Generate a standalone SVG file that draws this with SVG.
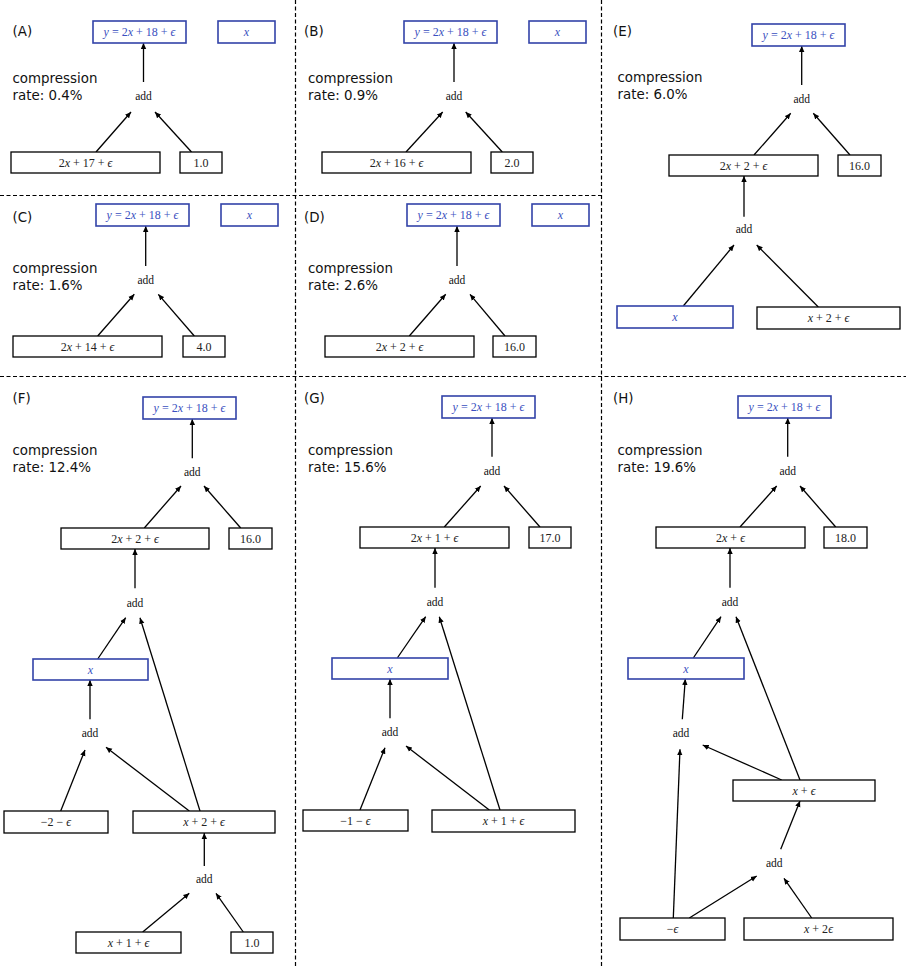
<svg xmlns="http://www.w3.org/2000/svg" width="906" height="966" viewBox="0 0 906 966">
<style>
.bg{fill:#ffffff}
.div{stroke:#000;stroke-width:1.2;stroke-dasharray:4,2.5;fill:none}
.box{fill:#fff;stroke:#000;stroke-width:1.3}
.bbox{fill:#fff;stroke:#3243a8;stroke-width:1.6}
.m{font-family:"Liberation Serif","DejaVu Serif",serif;font-size:12px;text-anchor:middle;fill:#222}
.a{font-family:"Liberation Serif","DejaVu Serif",serif;font-size:11.5px;text-anchor:middle;fill:#111}
.bm{font-family:"Liberation Serif","DejaVu Serif",serif;font-size:12px;text-anchor:middle;fill:#3a4fc0}
.it{font-style:italic}
.lab{font-family:"DejaVu Sans",sans-serif;font-size:13.4px;fill:#111}
.e{stroke:#000;stroke-width:1.3;fill:none;marker-end:url(#ah)}
</style>
<defs>
<marker id="ah" viewBox="0 0 10 10" markerWidth="6" markerHeight="6" refX="10" refY="5" orient="auto" markerUnits="userSpaceOnUse">
<path d="M0,0.5 L10,5 L0,9.5 z" fill="#000"/>
</marker>
</defs>
<rect class="bg" x="0" y="0" width="906" height="966"/>
<g id="dividers">
<line class="div" x1="295.5" y1="0" x2="295.5" y2="966"/>
<line class="div" x1="601.5" y1="0" x2="601.5" y2="966"/>
<line class="div" x1="0" y1="195.5" x2="601" y2="195.5"/>
<line class="div" x1="0" y1="376.5" x2="906" y2="376.5"/>
</g>
<g id="labels">
<text class="lab" x="12.5" y="36">(A)</text>
<text class="lab" x="12.5" y="83">compression</text>
<text class="lab" x="12.5" y="99.5">rate: 0.4%</text>
<text class="lab" x="304" y="36">(B)</text>
<text class="lab" x="308" y="83">compression</text>
<text class="lab" x="308" y="99.5">rate: 0.9%</text>
<text class="lab" x="12.5" y="222">(C)</text>
<text class="lab" x="12.5" y="273">compression</text>
<text class="lab" x="12.5" y="290">rate: 1.6%</text>
<text class="lab" x="304" y="222">(D)</text>
<text class="lab" x="308" y="273">compression</text>
<text class="lab" x="308" y="290">rate: 2.6%</text>
<text class="lab" x="613" y="36">(E)</text>
<text class="lab" x="617.5" y="82">compression</text>
<text class="lab" x="617.5" y="99">rate: 6.0%</text>
<text class="lab" x="12.5" y="403">(F)</text>
<text class="lab" x="12.5" y="455">compression</text>
<text class="lab" x="12.5" y="471.7">rate: 12.4%</text>
<text class="lab" x="304" y="403">(G)</text>
<text class="lab" x="308" y="455">compression</text>
<text class="lab" x="308" y="471.7">rate: 15.6%</text>
<text class="lab" x="613" y="403">(H)</text>
<text class="lab" x="617.5" y="455">compression</text>
<text class="lab" x="617.5" y="471.7">rate: 19.6%</text>
</g>
<g id="connectors">
<!-- A -->
<line class="e" x1="143.5" y1="82" x2="143.5" y2="43"/>
<line class="e" x1="96" y1="152" x2="131" y2="112"/>
<line class="e" x1="191.5" y1="152" x2="155" y2="112"/>
<!-- B -->
<line class="e" x1="454" y1="82" x2="454" y2="43"/>
<line class="e" x1="406" y1="152" x2="442.7" y2="112"/>
<line class="e" x1="502.3" y1="152" x2="465.7" y2="112"/>
<!-- C -->
<line class="e" x1="145.7" y1="266" x2="145.7" y2="226"/>
<line class="e" x1="97.7" y1="336" x2="134.3" y2="294.3"/>
<line class="e" x1="194.3" y1="336" x2="158.3" y2="294.3"/>
<!-- D -->
<line class="e" x1="457" y1="266" x2="457" y2="226"/>
<line class="e" x1="409.3" y1="336" x2="445.7" y2="294.3"/>
<line class="e" x1="505" y1="336" x2="470" y2="294.3"/>
<!-- E -->
<line class="e" x1="801.7" y1="85" x2="801.7" y2="46"/>
<line class="e" x1="754" y1="155" x2="790.7" y2="113.3"/>
<line class="e" x1="850" y1="155" x2="813.3" y2="113.3"/>
<line class="e" x1="744" y1="216.7" x2="744" y2="176"/>
<line class="e" x1="683.3" y1="306" x2="734" y2="245"/>
<line class="e" x1="818.3" y1="307" x2="756.7" y2="245"/>
<!-- F -->
<line class="e" x1="192.3" y1="458.3" x2="192.3" y2="419"/>
<line class="e" x1="144.3" y1="528" x2="181" y2="486"/>
<line class="e" x1="240.7" y1="528" x2="204" y2="486"/>
<line class="e" x1="135" y1="588.3" x2="135" y2="549"/>
<line class="e" x1="97.7" y1="659" x2="125.7" y2="617.7"/>
<line class="e" x1="200" y1="811" x2="140" y2="617.7"/>
<line class="e" x1="90" y1="719.3" x2="90" y2="680"/>
<line class="e" x1="60.7" y1="811" x2="85" y2="750"/>
<line class="e" x1="189.3" y1="811" x2="106" y2="747.3"/>
<line class="e" x1="204.3" y1="866" x2="204.3" y2="833"/>
<line class="e" x1="142.7" y1="932" x2="189.3" y2="893.3"/>
<line class="e" x1="243.3" y1="932" x2="216" y2="893.3"/>
<!-- G -->
<line class="e" x1="492" y1="456.7" x2="492" y2="418"/>
<line class="e" x1="444.3" y1="527" x2="480.7" y2="486"/>
<line class="e" x1="540" y1="527" x2="504" y2="486"/>
<line class="e" x1="435" y1="587.7" x2="435" y2="548"/>
<line class="e" x1="397.3" y1="658" x2="425.7" y2="616.7"/>
<line class="e" x1="500" y1="810" x2="439.3" y2="616.7"/>
<line class="e" x1="390" y1="718.3" x2="390" y2="679"/>
<line class="e" x1="360" y1="810" x2="385" y2="747.7"/>
<line class="e" x1="489.3" y1="810" x2="406" y2="746"/>
<!-- H -->
<line class="e" x1="787.7" y1="456.7" x2="787.7" y2="418"/>
<line class="e" x1="740" y1="527" x2="776.7" y2="486"/>
<line class="e" x1="835.7" y1="527" x2="800" y2="486"/>
<line class="e" x1="730" y1="587.7" x2="730" y2="548"/>
<line class="e" x1="693.3" y1="658" x2="721" y2="616.7"/>
<line class="e" x1="800" y1="780" x2="736" y2="616.7"/>
<line class="e" x1="682.3" y1="719.3" x2="685.3" y2="679"/>
<line class="e" x1="781.7" y1="780" x2="702.7" y2="745"/>
<line class="e" x1="780.7" y1="849.3" x2="800" y2="801"/>
<line class="e" x1="673.3" y1="918" x2="680" y2="749.3"/>
<line class="e" x1="689.3" y1="918" x2="756.7" y2="876"/>
<line class="e" x1="811.7" y1="918" x2="784" y2="878.3"/>
</g>
<!-- Panel A -->
<g id="A-y"><rect class="bbox" x="93" y="21" width="93" height="22"/><text class="bm" x="139.5" y="36"><tspan class="it">y</tspan> = 2<tspan class="it">x</tspan> + 18 + <tspan class="it">ϵ</tspan></text></g>
<g id="A-x"><rect class="bbox" x="218" y="21" width="57" height="22"/><text class="bm it" x="246.5" y="36">x</text></g>
<g id="A-add"><text class="a" x="143.5" y="100">add</text></g>
<g id="A-l"><rect class="box" x="11" y="152" width="149" height="21"/><text class="m" x="85.5" y="166.5">2<tspan class="it">x</tspan> + 17 + <tspan class="it">ϵ</tspan></text></g>
<g id="A-r"><rect class="box" x="180" y="152" width="42" height="21"/><text class="m" x="201" y="166.5">1.0</text></g>
<!-- Panel B -->
<g id="B-y"><rect class="bbox" x="404" y="21" width="93" height="22"/><text class="bm" x="450.5" y="36"><tspan class="it">y</tspan> = 2<tspan class="it">x</tspan> + 18 + <tspan class="it">ϵ</tspan></text></g>
<g id="B-x"><rect class="bbox" x="529" y="21" width="57" height="22"/><text class="bm it" x="557.5" y="36">x</text></g>
<g id="B-add"><text class="a" x="454" y="100">add</text></g>
<g id="B-l"><rect class="box" x="322" y="152" width="149" height="21"/><text class="m" x="396.5" y="166.5">2<tspan class="it">x</tspan> + 16 + <tspan class="it">ϵ</tspan></text></g>
<g id="B-r"><rect class="box" x="491" y="152" width="42" height="21"/><text class="m" x="512" y="166.5">2.0</text></g>
<!-- Panel C -->
<g id="C-y"><rect class="bbox" x="96" y="204" width="93" height="22"/><text class="bm" x="142.5" y="219"><tspan class="it">y</tspan> = 2<tspan class="it">x</tspan> + 18 + <tspan class="it">ϵ</tspan></text></g>
<g id="C-x"><rect class="bbox" x="221" y="204" width="57" height="22"/><text class="bm it" x="249.5" y="219">x</text></g>
<g id="C-add"><text class="a" x="145.7" y="284">add</text></g>
<g id="C-l"><rect class="box" x="13" y="336" width="149" height="21"/><text class="m" x="87.5" y="350.5">2<tspan class="it">x</tspan> + 14 + <tspan class="it">ϵ</tspan></text></g>
<g id="C-r"><rect class="box" x="183" y="336" width="42" height="21"/><text class="m" x="204" y="350.5">4.0</text></g>
<!-- Panel D -->
<g id="D-y"><rect class="bbox" x="407" y="204" width="93" height="22"/><text class="bm" x="453.5" y="219"><tspan class="it">y</tspan> = 2<tspan class="it">x</tspan> + 18 + <tspan class="it">ϵ</tspan></text></g>
<g id="D-x"><rect class="bbox" x="532" y="204" width="57" height="22"/><text class="bm it" x="560.5" y="219">x</text></g>
<g id="D-add"><text class="a" x="457" y="284">add</text></g>
<g id="D-l"><rect class="box" x="325" y="336" width="149" height="21"/><text class="m" x="399.5" y="350.5">2<tspan class="it">x</tspan> + 2 + <tspan class="it">ϵ</tspan></text></g>
<g id="D-r"><rect class="box" x="493" y="336" width="43" height="21"/><text class="m" x="514.5" y="350.5">16.0</text></g>
<!-- Panel E -->
<g id="E-y"><rect class="bbox" x="752" y="24" width="93" height="22"/><text class="bm" x="798.5" y="39"><tspan class="it">y</tspan> = 2<tspan class="it">x</tspan> + 18 + <tspan class="it">ϵ</tspan></text></g>
<g id="E-add1"><text class="a" x="801.7" y="103">add</text></g>
<g id="E-n1"><rect class="box" x="669" y="155" width="149" height="21"/><text class="m" x="743.5" y="169.5">2<tspan class="it">x</tspan> + 2 + <tspan class="it">ϵ</tspan></text></g>
<g id="E-c1"><rect class="box" x="838" y="155" width="43" height="21"/><text class="m" x="859.5" y="169.5">16.0</text></g>
<g id="E-add2"><text class="a" x="744" y="233">add</text></g>
<g id="E-x"><rect class="bbox" x="617" y="306" width="116" height="22"/><text class="bm it" x="675" y="321">x</text></g>
<g id="E-n2"><rect class="box" x="757" y="307" width="143" height="22"/><text class="m" x="828.5" y="322"><tspan class="it">x</tspan> + 2 + <tspan class="it">ϵ</tspan></text></g>
<!-- Panel F -->
<g id="F-y"><rect class="bbox" x="143" y="397" width="93" height="22"/><text class="bm" x="189.5" y="412"><tspan class="it">y</tspan> = 2<tspan class="it">x</tspan> + 18 + <tspan class="it">ϵ</tspan></text></g>
<g id="F-add1"><text class="a" x="192.3" y="475.7">add</text></g>
<g id="F-n1"><rect class="box" x="61" y="528" width="148" height="21"/><text class="m" x="135" y="542.5">2<tspan class="it">x</tspan> + 2 + <tspan class="it">ϵ</tspan></text></g>
<g id="F-c1"><rect class="box" x="229" y="528" width="43" height="21"/><text class="m" x="250.5" y="542.5">16.0</text></g>
<g id="F-add2"><text class="a" x="135" y="606.7">add</text></g>
<g id="F-x"><rect class="bbox" x="33" y="659" width="115" height="21"/><text class="bm it" x="90.5" y="673.5">x</text></g>
<g id="F-add3"><text class="a" x="90" y="736.7">add</text></g>
<g id="F-n2"><rect class="box" x="4" y="811" width="104" height="22"/><text class="m" x="56" y="826">−2 − <tspan class="it">ϵ</tspan></text></g>
<g id="F-n3"><rect class="box" x="133" y="811" width="142" height="22"/><text class="m" x="204" y="826"><tspan class="it">x</tspan> + 2 + <tspan class="it">ϵ</tspan></text></g>
<g id="F-add4"><text class="a" x="204.3" y="883.3">add</text></g>
<g id="F-n4"><rect class="box" x="76" y="932" width="105" height="21"/><text class="m" x="128.5" y="946.5"><tspan class="it">x</tspan> + 1 + <tspan class="it">ϵ</tspan></text></g>
<g id="F-c2"><rect class="box" x="231" y="932" width="42" height="21"/><text class="m" x="252" y="946.5">1.0</text></g>
<!-- Panel G -->
<g id="G-y"><rect class="bbox" x="442" y="396" width="93" height="22"/><text class="bm" x="488.5" y="411"><tspan class="it">y</tspan> = 2<tspan class="it">x</tspan> + 18 + <tspan class="it">ϵ</tspan></text></g>
<g id="G-add1"><text class="a" x="492" y="475">add</text></g>
<g id="G-n1"><rect class="box" x="360" y="527" width="149" height="21"/><text class="m" x="434.5" y="541.5">2<tspan class="it">x</tspan> + 1 + <tspan class="it">ϵ</tspan></text></g>
<g id="G-c1"><rect class="box" x="529" y="527" width="42" height="21"/><text class="m" x="550" y="541.5">17.0</text></g>
<g id="G-add2"><text class="a" x="435" y="605.7">add</text></g>
<g id="G-x"><rect class="bbox" x="332" y="658" width="116" height="21"/><text class="bm it" x="390" y="672.5">x</text></g>
<g id="G-add3"><text class="a" x="390" y="735.7">add</text></g>
<g id="G-n2"><rect class="box" x="303" y="810" width="105" height="21"/><text class="m" x="355.5" y="824.5">−1 − <tspan class="it">ϵ</tspan></text></g>
<g id="G-n3"><rect class="box" x="432" y="810" width="143" height="22"/><text class="m" x="503.5" y="825"><tspan class="it">x</tspan> + 1 + <tspan class="it">ϵ</tspan></text></g>
<!-- Panel H -->
<g id="H-y"><rect class="bbox" x="738" y="396" width="93" height="22"/><text class="bm" x="784.5" y="411"><tspan class="it">y</tspan> = 2<tspan class="it">x</tspan> + 18 + <tspan class="it">ϵ</tspan></text></g>
<g id="H-add1"><text class="a" x="787.7" y="475">add</text></g>
<g id="H-n1"><rect class="box" x="656" y="527" width="149" height="21"/><text class="m" x="730.5" y="541.5">2<tspan class="it">x</tspan> + <tspan class="it">ϵ</tspan></text></g>
<g id="H-c1"><rect class="box" x="824" y="527" width="43" height="21"/><text class="m" x="845.5" y="541.5">18.0</text></g>
<g id="H-add2"><text class="a" x="730" y="605.7">add</text></g>
<g id="H-x"><rect class="bbox" x="628" y="658" width="116" height="21"/><text class="bm it" x="686" y="672.5">x</text></g>
<g id="H-add3"><text class="a" x="681" y="736.7">add</text></g>
<g id="H-n2"><rect class="box" x="733" y="780" width="142" height="21"/><text class="m" x="804" y="794.5"><tspan class="it">x</tspan> + <tspan class="it">ϵ</tspan></text></g>
<g id="H-add4"><text class="a" x="774.3" y="866.7">add</text></g>
<g id="H-n3"><rect class="box" x="620" y="918" width="105" height="22"/><text class="m" x="672.5" y="933">−<tspan class="it">ϵ</tspan></text></g>
<g id="H-n4"><rect class="box" x="744" y="918" width="149" height="22"/><text class="m" x="818.5" y="933"><tspan class="it">x</tspan> + 2<tspan class="it">ϵ</tspan></text></g>
</svg>
